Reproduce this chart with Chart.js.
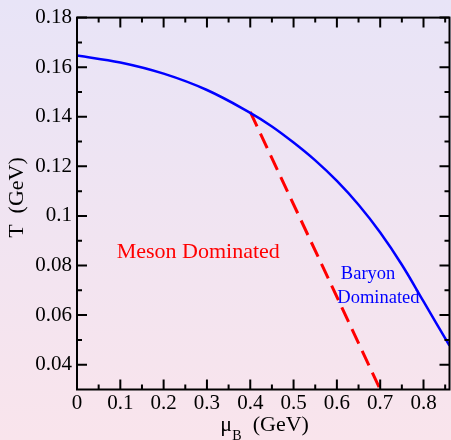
<!DOCTYPE html>
<html><head><meta charset="utf-8">
<script src="https://cdn.jsdelivr.net/npm/chart.js@4"></script>
<style>html,body{margin:0;padding:0;overflow:hidden;background:#f0e4f0}#c{display:block}</style>
</head><body>
<canvas id="c" width="451" height="440" style="width:451px;height:440px"></canvas>
<script>
// Phase boundary (blue)
const muBoundary = [0, 0.1, 0.2, 0.3, 0.4, 0.45, 0.5, 0.55, 0.6, 0.65, 0.7, 0.75, 0.8, 0.86];
const tBoundary  = [0.1647, 0.1619, 0.1574, 0.1508, 0.1416, 0.1361, 0.1296, 0.1224, 0.1141, 0.1045, 0.0933, 0.0803, 0.0655, 0.0477];
// Meson / baryon separation (red dashed)
const muSplit = [0.40, 0.70];
const tSplit  = [0.142, 0.030];
// Axes
const xTicks = [0, 0.1, 0.2, 0.3, 0.4, 0.5, 0.6, 0.7, 0.8];
const xTickLabels = ['0', '0.1', '0.2', '0.3', '0.4', '0.5', '0.6', '0.7', '0.8'];
const xMinor = [0.05, 0.15, 0.25, 0.35, 0.45, 0.55, 0.65, 0.75, 0.85];
const yTicks = [0.04, 0.06, 0.08, 0.10, 0.12, 0.14, 0.16, 0.18];
const yTickLabels = ['0.04', '0.06', '0.08', '0.1', '0.12', '0.14', '0.16', '0.18'];
const yMinor = [0.05, 0.07, 0.09, 0.11, 0.13, 0.15, 0.17];
// Region labels [text, mu, T]
const mesonLabel = ['Meson Dominated', 0.280, 0.0832];
const baryonLabel1 = ['Baryon', 0.672, 0.0744];
const baryonLabel2 = ['Dominated', 0.696, 0.0649];

const SERIF = '"Liberation Serif", "DejaVu Serif", serif';

const decor = {
  id: 'decor',
  beforeDraw(chart) {
    const {ctx, width, height} = chart;
    const g = ctx.createLinearGradient(0, 0, 0, height);
    g.addColorStop(0, '#e8e4f7');
    g.addColorStop(1, '#f9e4ec');
    ctx.save();
    ctx.fillStyle = g;
    ctx.fillRect(0, 0, width, height);
    ctx.restore();
  },
  afterDatasetsDraw(chart) {
    const {ctx, chartArea: a, scales: {x, y}} = chart;
    ctx.save();
    // region labels
    ctx.textAlign = 'center';
    ctx.textBaseline = 'alphabetic';
    ctx.fillStyle = '#ff0000';
    ctx.font = '22px ' + SERIF;
    ctx.fillText(mesonLabel[0], x.getPixelForValue(mesonLabel[1]), y.getPixelForValue(mesonLabel[2]));
    ctx.fillStyle = '#0000ff';
    ctx.font = '18.5px ' + SERIF;
    ctx.fillText(baryonLabel1[0], x.getPixelForValue(baryonLabel1[1]), y.getPixelForValue(baryonLabel1[2]));
    ctx.fillText(baryonLabel2[0], x.getPixelForValue(baryonLabel2[1]), y.getPixelForValue(baryonLabel2[2]));

    // frame
    ctx.strokeStyle = '#000';
    ctx.lineWidth = 2;
    ctx.strokeRect(a.left, a.top, a.right - a.left, a.bottom - a.top);
    // ticks (inward, mirrored)
    const major = 10, minor = 5;
    ctx.beginPath();
    xTicks.forEach(v => { const p = x.getPixelForValue(v);
      ctx.moveTo(p, a.bottom); ctx.lineTo(p, a.bottom - major);
      ctx.moveTo(p, a.top); ctx.lineTo(p, a.top + major); });
    xMinor.forEach(v => { const p = x.getPixelForValue(v);
      ctx.moveTo(p, a.bottom); ctx.lineTo(p, a.bottom - minor);
      ctx.moveTo(p, a.top); ctx.lineTo(p, a.top + minor); });
    yTicks.forEach(v => { const p = y.getPixelForValue(v);
      ctx.moveTo(a.left, p); ctx.lineTo(a.left + major, p);
      ctx.moveTo(a.right, p); ctx.lineTo(a.right - major, p); });
    yMinor.forEach(v => { const p = y.getPixelForValue(v);
      ctx.moveTo(a.left, p); ctx.lineTo(a.left + minor, p);
      ctx.moveTo(a.right, p); ctx.lineTo(a.right - minor, p); });
    ctx.stroke();

    // axis titles
    ctx.fillStyle = '#000';
    ctx.textAlign = 'left';
    const cx = (a.left + a.right) / 2;
    ctx.font = '22px ' + SERIF;
    ctx.fillText('\u03bc', cx - 43, 431);
    ctx.font = '14px ' + SERIF;
    ctx.fillText('B', cx - 31, 440);
    ctx.font = '22px ' + SERIF;
    ctx.fillText('(GeV)', cx - 10.5, 431);

    ctx.translate(23, 197.5);
    ctx.rotate(-Math.PI / 2);
    ctx.textAlign = 'center';
    ctx.fillText('T  (GeV)', 0, 0);
    ctx.restore();
  }
};

new Chart(document.getElementById('c'), {
  type: 'line',
  data: {
    datasets: [
      {
        data: muBoundary.map((m, i) => ({x: m, y: tBoundary[i]})),
        borderColor: '#0000ff', borderWidth: 2.5, pointRadius: 0,
        tension: 0.4, fill: false
      },
      {
        data: muSplit.map((m, i) => ({x: m, y: tSplit[i]})),
        borderColor: '#ff0000', borderWidth: 3, borderDash: [16, 8],
        pointRadius: 0, tension: 0, fill: false
      }
    ]
  },
  options: {
    responsive: false, animation: false, devicePixelRatio: 1,
    layout: {padding: {left: 0, top: 15.5, right: 1.5, bottom: 0}},
    plugins: {legend: {display: false}, tooltip: {enabled: false}},
    scales: {
      x: {
        type: 'linear', min: 0, max: 0.86,
        grid: {display: false, drawTicks: false}, border: {display: false},
        ticks: {padding: 1, color: '#000', font: {family: SERIF, size: 21},
          maxRotation: 0, autoSkip: false,
          callback: (v) => { const i = xTicks.findIndex(t => Math.abs(t - v) < 1e-9); return i >= 0 ? xTickLabels[i] : ''; }},
        afterBuildTicks: s => { s.ticks = xTicks.map(v => ({value: v})); },
        afterFit: s => { s.height = 50.5; }
      },
      y: {
        type: 'linear', min: 0.03, max: 0.18,
        grid: {display: false, drawTicks: false}, border: {display: false},
        ticks: {padding: 5, color: '#000', font: {family: SERIF, size: 21},
          autoSkip: false,
          callback: (v) => { const i = yTicks.findIndex(t => Math.abs(t - v) < 1e-9); return i >= 0 ? yTickLabels[i] : ''; }},
        afterBuildTicks: s => { s.ticks = yTicks.map(v => ({value: v})); },
        afterFit: s => { s.width = 77; }
      }
    }
  },
  plugins: [decor]
});
</script>
</body></html>
